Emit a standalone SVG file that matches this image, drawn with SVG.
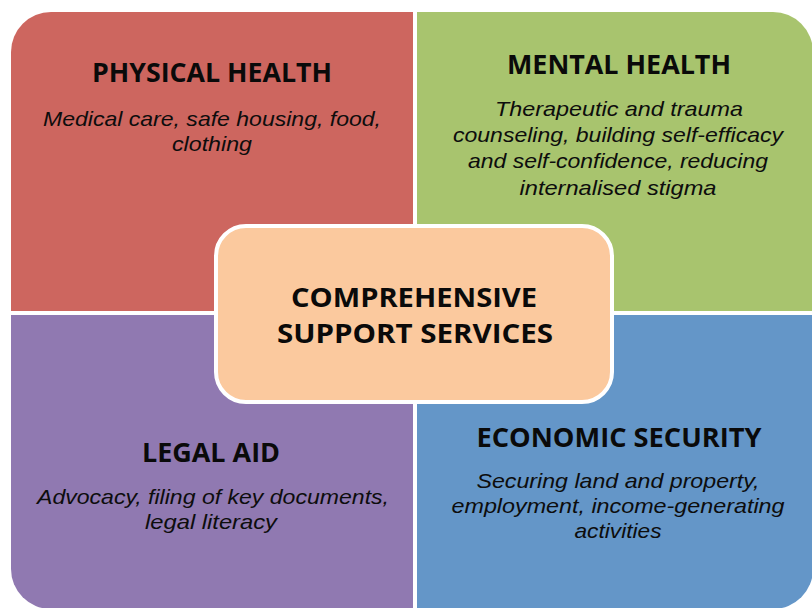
<svg xmlns="http://www.w3.org/2000/svg" width="812" height="608" viewBox="0 0 812 608">
<style>
.t{font-family:"Open Sans","Liberation Sans",sans-serif;font-weight:bold;font-size:26px;fill:#0a0a0a;text-anchor:middle}
.b{font-family:"Liberation Sans","Open Sans",sans-serif;font-style:italic;font-size:21px;fill:#0d0d0d;text-anchor:middle}
</style>
<rect width="812" height="608" fill="#ffffff"/>
<g id="physical-health">
<path d="M11,52 A40,40 0 0 1 51,12 L413,12 L413,311 L11,311 Z" fill="#CD665F"/>
<text class="t" x="212" y="82" textLength="240" lengthAdjust="spacingAndGlyphs">PHYSICAL HEALTH</text>
<text class="b" x="212" y="126" textLength="338" lengthAdjust="spacingAndGlyphs">Medical care, safe housing, food,</text>
<text class="b" x="212" y="151" textLength="80" lengthAdjust="spacingAndGlyphs">clothing</text>
</g>
<g id="mental-health">
<path d="M417,12 L773,12 A40,40 0 0 1 813,52 L813,311 L417,311 Z" fill="#A8C46E"/>
<text class="t" x="619" y="74" textLength="224" lengthAdjust="spacingAndGlyphs">MENTAL HEALTH</text>
<text class="b" x="619" y="116" textLength="248" lengthAdjust="spacingAndGlyphs">Therapeutic and trauma</text>
<text class="b" x="618" y="142" textLength="330" lengthAdjust="spacingAndGlyphs">counseling, building self-efficacy</text>
<text class="b" x="618" y="168" textLength="300" lengthAdjust="spacingAndGlyphs">and self-confidence, reducing</text>
<text class="b" x="618" y="195" textLength="197" lengthAdjust="spacingAndGlyphs">internalised stigma</text>
</g>
<g id="legal-aid">
<path d="M11,315 L413,315 L413,609 L51,609 A40,40 0 0 1 11,569 Z" fill="#9079B1"/>
<text class="t" x="211" y="462" textLength="138" lengthAdjust="spacingAndGlyphs">LEGAL AID</text>
<text class="b" x="213" y="504" textLength="352" lengthAdjust="spacingAndGlyphs">Advocacy, filing of key documents,</text>
<text class="b" x="211" y="529" textLength="132" lengthAdjust="spacingAndGlyphs">legal literacy</text>
</g>
<g id="economic-security">
<path d="M417,315 L813,315 L813,569 A40,40 0 0 1 773,609 L417,609 Z" fill="#6496C8"/>
<text class="t" x="619" y="447" textLength="285" lengthAdjust="spacingAndGlyphs">ECONOMIC SECURITY</text>
<text class="b" x="618" y="488" textLength="283" lengthAdjust="spacingAndGlyphs">Securing land and property,</text>
<text class="b" x="618" y="513" textLength="333" lengthAdjust="spacingAndGlyphs">employment, income-generating</text>
<text class="b" x="618" y="538" textLength="87" lengthAdjust="spacingAndGlyphs">activities</text>
</g>
<g id="comprehensive-support-services">
<rect x="216" y="226" width="396" height="176" rx="30" ry="30" fill="#FBC99E" stroke="#ffffff" stroke-width="4"/>
<text class="t" x="414" y="307" textLength="246" lengthAdjust="spacingAndGlyphs">COMPREHENSIVE</text>
<text class="t" x="415" y="343" textLength="276" lengthAdjust="spacingAndGlyphs">SUPPORT SERVICES</text>
</g>
</svg>
